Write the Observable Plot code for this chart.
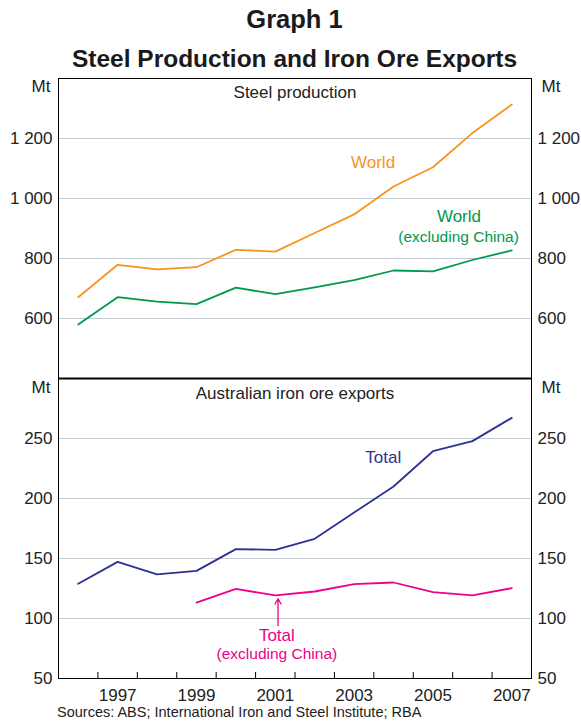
<!DOCTYPE html>
<html>
<head>
<meta charset="utf-8">
<script src="https://cdn.jsdelivr.net/npm/d3@7"></script>
<script src="https://cdn.jsdelivr.net/npm/@observablehq/plot@0.6"></script>
<style>
  body { margin: 0; background: #fff; font-family: "Liberation Sans", Arial, sans-serif; }
  #wrap { position: relative; width: 581px; height: 725px; overflow: hidden; }
  .title { position: absolute; left: 4px; width: 581px; text-align: center; font-weight: bold; color: #1a1a1a; line-height: 1; white-space: nowrap; }
  #t1 { top: 7px; font-size: 25.5px; }
  #t2 { top: 47px; font-size: 24.5px; }
  #src { position: absolute; left: 57px; top: 706px; font-size: 14.5px; line-height: 12px; color: #222; white-space: nowrap; }
  .panel { position: absolute; left: 0; }
</style>
</head>
<body>
<div id="wrap">
  <div class="title" id="t1">Graph 1</div>
  <div class="title" id="t2">Steel Production and Iron Ore Exports</div>
  <div class="panel" id="top" style="top:68px"></div>
  <div class="panel" id="bot" style="top:368px"></div>
  <div id="src">Sources: ABS; International Iron and Steel Institute; RBA</div>
</div>
<script>
// ---- Data ----
const years = [1996, 1997, 1998, 1999, 2000, 2001, 2002, 2003, 2004, 2005, 2006, 2007];
const steelWorld = [671, 779, 764, 771, 829, 823, 885, 947, 1040, 1104, 1218, 1313];
const steelExChina = [580, 671, 656, 648, 703, 681, 704, 728, 760, 757, 795, 827];
const oreTotal = [128.9, 147.2, 136.7, 139.7, 157.8, 157.2, 166.4, 188.3, 210, 239.4, 247.8, 267.2];
const oreExYears = [1999, 2000, 2001, 2002, 2003, 2004, 2005, 2006, 2007];
const oreExChina = [113.3, 124.7, 119.2, 122.5, 128.6, 130, 122, 119.2, 125.3];
const steelTicks = [600, 800, 1000, 1200];
const oreTicks = [50, 100, 150, 200, 250];
const xLabelYears = [1997, 1999, 2001, 2003, 2005, 2007];
const unitLabel = "Mt";

// ---- Colours ----
const cOrange = "#F7941D", cGreen = "#00984A", cNavy = "#2E3192", cMagenta = "#EC008C";
const gridColor = "#c4cad1", ink = "#222";

const xDomain = [years[0] - 0.5, years[years.length - 1] + 0.5];
const yearBounds = years.slice(1).map(y => y - 0.5);
const fmt = d => d >= 1000 ? `${Math.floor(d / 1000)} ${String(d % 1000).padStart(3, "0")}` : String(d);

const steelRows = years.map((y, i) => ({year: y, world: steelWorld[i], ex: steelExChina[i]}));
const oreRows = years.map((y, i) => ({year: y, total: oreTotal[i]}));
const oreExRows = oreExYears.map((y, i) => ({year: y, ex: oreExChina[i]}));

const baseStyle = {fontFamily: "'Liberation Sans', Arial, sans-serif", fontSize: "17px", color: ink, background: "transparent", overflow: "visible"};

// ---- Top panel: steel production ----
const topPlot = Plot.plot({
  width: 581, height: 311,
  marginTop: 10, marginBottom: 1, marginLeft: 58, marginRight: 50,
  style: baseStyle,
  x: {domain: xDomain, axis: null, label: null},
  y: {domain: [400, 1400], label: null},
  marks: [
    Plot.gridY(steelTicks, {stroke: gridColor, strokeOpacity: 1, strokeWidth: 1.2}),
    Plot.axisY({anchor: "left", ticks: steelTicks, tickSize: 0, tickPadding: 6, tickFormat: fmt, fontSize: 17, label: null}),
    Plot.axisY({anchor: "right", ticks: steelTicks, tickSize: 0, tickPadding: 6, tickFormat: fmt, fontSize: 17, label: null}),
    Plot.text([unitLabel], {frameAnchor: "top-left", dx: -8, dy: 1, textAnchor: "end", fontSize: 17}),
    Plot.text([unitLabel], {frameAnchor: "top-right", dx: 10, dy: 1, textAnchor: "start", fontSize: 17}),
    Plot.text(["Steel production"], {frameAnchor: "top", dy: 7, fontSize: 17}),
    Plot.line(steelRows, {x: "year", y: "world", stroke: cOrange, strokeWidth: 1.8}),
    Plot.line(steelRows, {x: "year", y: "ex", stroke: cGreen, strokeWidth: 1.8}),
    Plot.text(["World"], {x: 2003.48, y: 1120, fill: cOrange, fontSize: 17}),
    Plot.text(["World"], {x: 2005.66, y: 940, fill: cGreen, fontSize: 17}),
    Plot.text(["(excluding China)"], {x: 2005.65, y: 873, fill: cGreen, fontSize: 15.5}),
    Plot.frame({stroke: "#000", strokeWidth: 1})
  ]
});
document.getElementById("top").appendChild(topPlot);

// ---- Bottom panel: Australian iron ore exports ----
const botPlot = Plot.plot({
  width: 581, height: 342,
  marginTop: 10, marginBottom: 32, marginLeft: 58, marginRight: 50,
  style: baseStyle,
  x: {domain: xDomain, label: null},
  y: {domain: [50, 300], label: null},
  marks: [
    Plot.gridY(oreTicks.slice(1), {stroke: gridColor, strokeOpacity: 1, strokeWidth: 1.2}),
    Plot.axisY({anchor: "left", ticks: oreTicks, tickSize: 0, tickPadding: 6, tickFormat: fmt, fontSize: 17, label: null}),
    Plot.axisY({anchor: "right", ticks: oreTicks, tickSize: 0, tickPadding: 6, tickFormat: fmt, fontSize: 17, label: null}),
    Plot.text([unitLabel], {frameAnchor: "top-left", dx: -8, dy: 2, textAnchor: "end", fontSize: 17}),
    Plot.text([unitLabel], {frameAnchor: "top-right", dx: 10, dy: 2, textAnchor: "start", fontSize: 17}),
    Plot.text(["Australian iron ore exports"], {frameAnchor: "top", dy: 8, fontSize: 17}),
    Plot.ruleX(yearBounds, {y1: 50, y2: 55, stroke: "#000", strokeWidth: 1}),
    Plot.axisX({ticks: xLabelYears, tickSize: 0, tickPadding: 10, tickFormat: d => String(d), fontSize: 17, label: null}),
    Plot.line(oreRows, {x: "year", y: "total", stroke: cNavy, strokeWidth: 1.8}),
    Plot.line(oreExRows, {x: "year", y: "ex", stroke: cMagenta, strokeWidth: 1.8}),
    Plot.text(["Total"], {x: 2003.74, y: 234.2, fill: cNavy, fontSize: 17}),
    Plot.text(["Total"], {x: 2001.04, y: 85.8, fill: cMagenta, fontSize: 17}),
    Plot.text(["(excluding China)"], {x: 2001.04, y: 70, fill: cMagenta, fontSize: 15.5}),
    Plot.arrow([0], {x1: 2001.07, x2: 2001.07, y1: 94, y2: 116.5, stroke: cMagenta, strokeWidth: 1.3, headLength: 7, bend: 0}),
    Plot.frame({stroke: "#000", strokeWidth: 1}),
    Plot.ruleY([300], {stroke: "#000", strokeWidth: 2})
  ]
});
document.getElementById("bot").appendChild(botPlot);
</script>
</body>
</html>
